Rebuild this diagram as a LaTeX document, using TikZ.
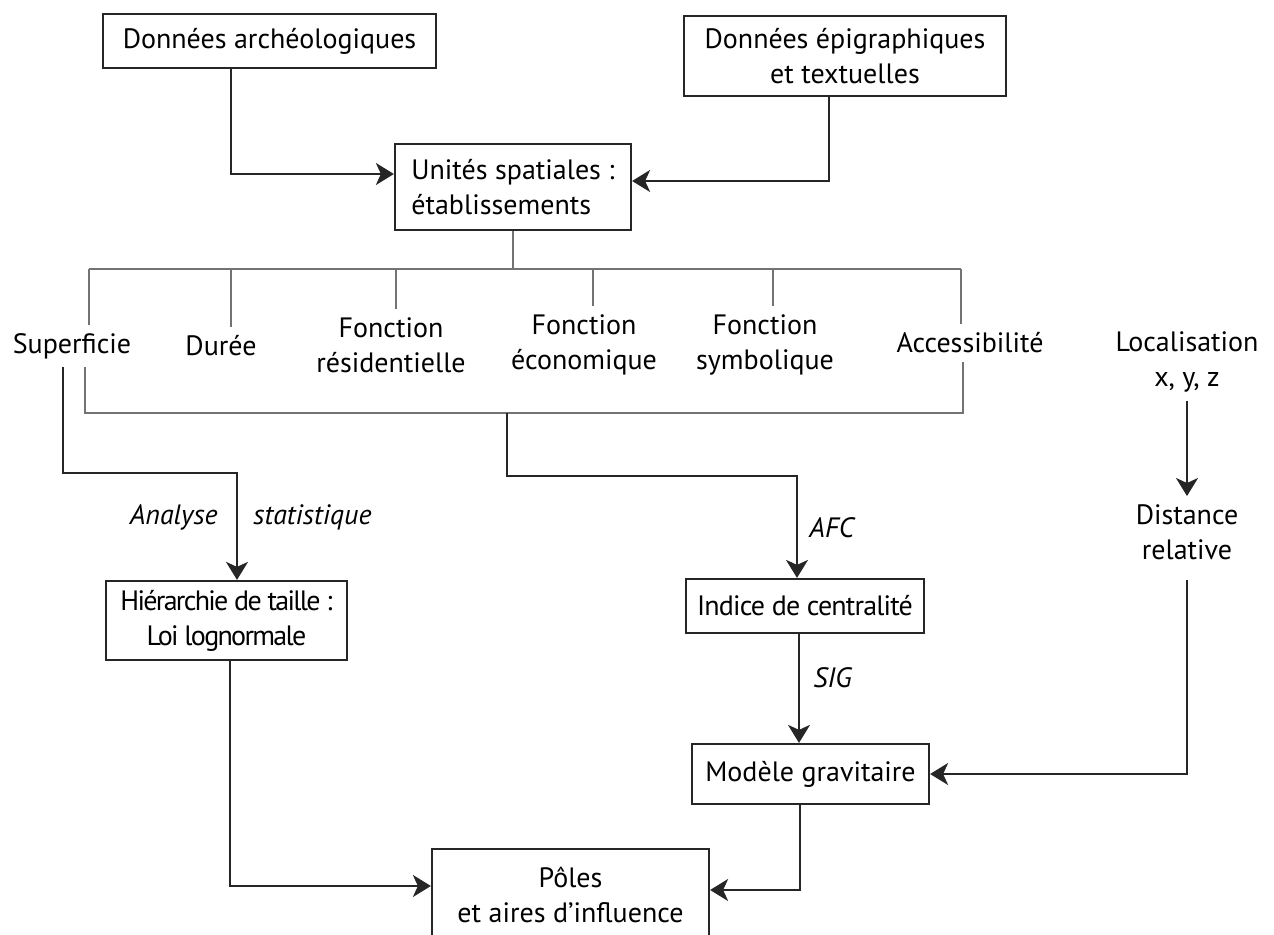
\documentclass[tikz,border=0pt]{standalone}
\usepackage{fontspec}
\setmainfont{PT Sans}
\usetikzlibrary{arrows.meta,calc,positioning}

\begin{document}
\begin{tikzpicture}[
  x=0.5pt, y=-0.5pt,
  every node/.style={font=\fontsize{14}{17.5}\selectfont},
  source box/.style={draw=black!85, line width=1.1pt, align=center, inner sep=0pt},
  attr/.style={align=center, inner xsep=2pt, inner ysep=4pt},
  method/.style={font=\fontsize{14}{17.5}\selectfont\itshape, inner sep=0pt},
  branch/.style={draw=black!55, line width=0.8pt},
  flow/.style={draw=black!85, line width=1.1pt, -{Stealth[length=9pt,width=11pt,inset=2.5pt]}}
]
\useasboundingbox (0,0) rectangle (1274,935);

% -----------------------------------------------------------------------------
% Sources and spatial units.
% -----------------------------------------------------------------------------
\node[source box, minimum width=166.5pt, minimum height=27pt] (archData) at (269.5,41) {Données archéologiques};
\node[source box, minimum width=161pt, minimum height=40pt] (epigData) at (845,56) {Données épigraphiques\\et textuelles};
\node[source box, minimum width=118pt, minimum height=43pt, align=left] (unitsBox) at (513,187) {Unités spatiales :\\établissements};

\draw[flow] ([xshift=-19.25pt]archData.south) |- ([yshift=6.5pt]unitsBox.west);
\draw[flow] ([xshift=-8pt]epigData.south) |- ([yshift=3pt]unitsBox.east);

% -----------------------------------------------------------------------------
% Attributes of the settlements.
% -----------------------------------------------------------------------------
\node[attr] (supAttr) at (72,346) {Superficie};
\node[attr] (durAttr) at (221,346) {Durée};
\node[attr] (resAttr) at (391,345) {Fonction\\résidentielle};
\node[attr] (ecoAttr) at (584,345) {Fonction\\économique};
\node[attr] (symAttr) at (765,345) {Fonction\\symbolique};
\node[attr] (accAttr) at (970,343) {Accessibilité};
\node[attr] (locAttr) at (1187,362) {Localisation\\x, y, z};
\node[attr] (distNode) at (1187,532) {Distance\\relative};

\coordinate (busLeft) at (89,269);
\coordinate (busRight) at (961,269);
\draw[branch] (unitsBox.south) -- (unitsBox.south |- busLeft);
\draw[branch] (busLeft) -- (busRight);
\foreach \n/\x in {supAttr/89, durAttr/231, resAttr/396, ecoAttr/593, symAttr/773, accAttr/961}
  \draw[branch] (\x,269) -- (\n.north -| \x,0);

% lower bracket gathering the attributes for the AFC
\coordinate (lowLeft) at (85,413);
\coordinate (lowRight) at (963,413);
\coordinate (afcStart) at (507,413);
\draw[branch] (supAttr.south -| lowLeft) -- (lowLeft) -- (lowRight) -- (accAttr.south -| lowRight);

% -----------------------------------------------------------------------------
% Analyses and results.
% -----------------------------------------------------------------------------
\node[source box, minimum width=120.5pt, minimum height=39.5pt, font=\fontsize{14}{17.5}\selectfont\addfontfeature{LetterSpace=-6}] (sizeBox) at (226.5,620.5) {Hiérarchie de taille :\\Loi lognormale};
\node[source box, minimum width=119pt, minimum height=27pt, font=\fontsize{14}{17.5}\selectfont\addfontfeature{LetterSpace=-3}] (centralBox) at (805,606) {Indice de centralité};
\node[source box, minimum width=118.5pt, minimum height=30pt] (gravityBox) at (810.5,774) {Modèle gravitaire};
\node[source box, minimum width=138.5pt, minimum height=46pt] (polesBox) at (570.5,895) {Pôles\\et aires d'influence};

\draw[flow] ([xshift=-4.5pt]supAttr.south) -- ++(0,106) -| ([xshift=5.25pt]sizeBox.north);
\node[method, anchor=east] (analyseLbl) at (218,517) {Analyse};
\node[method, anchor=west] (statLbl) at (253,517) {statistique};

\draw[flow] (afcStart) -- ++(0,63) -| ([xshift=-4pt]centralBox.north);
\node[method, anchor=west] (afcLbl) at (809,528) {AFC};

\draw[flow] ([xshift=-5.75pt]gravityBox.north |- centralBox.south) -- ([xshift=-5.75pt]gravityBox.north);
\node[method, anchor=west] (sigLbl) at (813,678) {SIG};

\draw[flow] (locAttr.south) -- (distNode.north);
\draw[flow, shorten <=6pt] (distNode.south) |- (gravityBox.east);

\draw[flow] ([xshift=1.75pt]sizeBox.south) |- ([yshift=4.5pt]polesBox.west);
\draw[flow] ([xshift=-5.25pt]gravityBox.south) |- ([yshift=2.5pt]polesBox.east);

\end{tikzpicture}
\end{document}
